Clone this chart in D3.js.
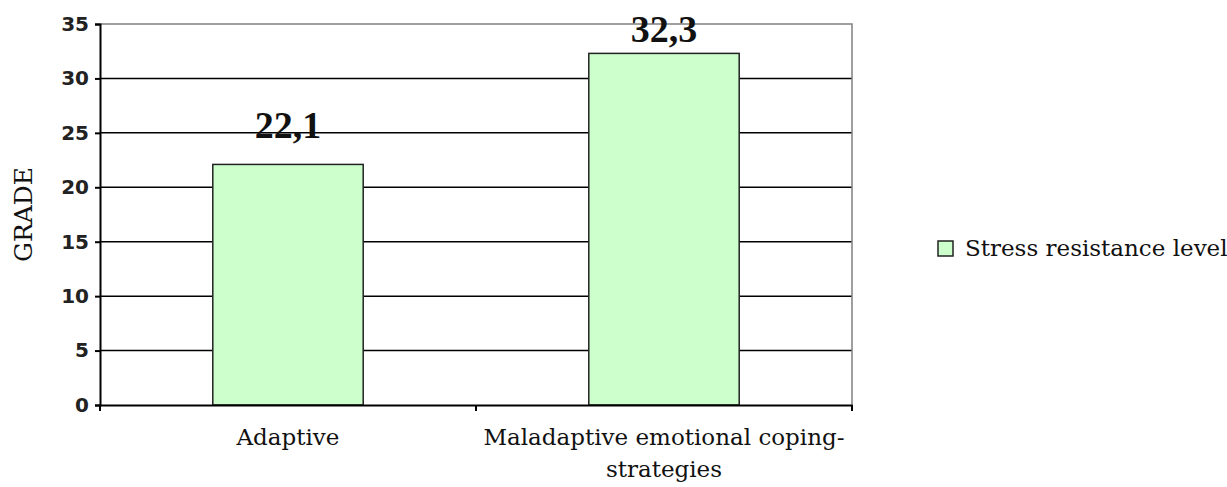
<!DOCTYPE html>
<html>
<head>
<meta charset="utf-8">
<script src="https://cdn.jsdelivr.net/npm/d3@7"></script>
<style>
  body { margin: 0; background: #fff; }
  svg { display: block; }
</style>
</head>
<body>
<svg></svg>
<script>
const categories = ['Adaptive', 'Maladaptive emotional coping-strategies'];
const categoryLines = [['Adaptive'], ['Maladaptive emotional coping-', 'strategies']];
const values = [22.1, 32.3];
const valueLabels = ['22,1', '32,3'];
const yTicks = [0, 5, 10, 15, 20, 25, 30, 35];
const seriesName = 'Stress resistance level';
const yTitle = 'GRADE';

const width = 1227;
const height = 487;
const plotLeft = 100;
const plotRight = 852;
const plotTop = 24;
const plotBottom = 405;

const svg = d3.select('svg').attr('width', width).attr('height', height);

const xScale = d3.scaleBand().domain(categories).range([plotLeft, plotRight]).padding(0);
const yScale = d3.scaleLinear().domain([0, 35]).range([plotBottom, plotTop]);

const barWidth = xScale.bandwidth() * 0.4;

// gridlines
svg
  .append('g')
  .selectAll('line')
  .data(yTicks.filter((t) => t > 0 && t < 35))
  .enter()
  .append('line')
  .attr('x1', plotLeft)
  .attr('x2', plotRight)
  .attr('y1', (d) => yScale(d))
  .attr('y2', (d) => yScale(d))
  .attr('stroke', '#000')
  .attr('stroke-width', 1.5);

// plot border (top and right, gray)
svg
  .append('path')
  .attr('d', `M${plotLeft},${yScale(35)}H${plotRight}V${yScale(0)}`)
  .attr('fill', 'none')
  .attr('stroke', '#808080')
  .attr('stroke-width', 1.5);

// bars
svg
  .selectAll('rect.bar')
  .data(values)
  .enter()
  .append('rect')
  .attr('class', 'bar')
  .attr('x', (d, i) => xScale(categories[i]) + (xScale.bandwidth() - barWidth) / 2)
  .attr('y', (d) => yScale(d))
  .attr('width', barWidth)
  .attr('height', (d) => yScale(0) - yScale(d))
  .attr('fill', '#ccffcc')
  .attr('stroke', '#222')
  .attr('stroke-width', 1.5);

// value labels (the tall one gets pushed down so it stays in the picture)
svg
  .selectAll('text.val')
  .data(values)
  .enter()
  .append('text')
  .attr('class', 'val')
  .attr('x', (d, i) => xScale(categories[i]) + xScale.bandwidth() / 2)
  .attr('y', (d) => Math.max(yScale(d) - 26, 42))
  .attr('text-anchor', 'middle')
  .attr('font-family', 'Liberation Serif, serif')
  .attr('font-weight', 'bold')
  .attr('font-size', 38)
  .attr('fill', '#111')
  .text((d, i) => valueLabels[i]);

// y axis
const yAxis = d3.axisLeft(yScale).tickValues(yTicks).tickSize(5).tickPadding(6);
const gy = svg
  .append('g')
  .attr('transform', 'translate(' + plotLeft + ', 0)')
  .call(yAxis);
gy.select('.domain').attr('stroke', '#000').attr('stroke-width', 2);
gy.selectAll('.tick line').attr('stroke', '#000').attr('stroke-width', 2);
gy.selectAll('.tick text')
  .attr('font-family', 'DejaVu Sans, sans-serif')
  .attr('font-weight', 'bold')
  .attr('font-size', 20)
  .attr('fill', '#222');

// x axis
const xAxis = d3.axisBottom(xScale).tickSize(0).tickFormat('');
const gx = svg
  .append('g')
  .attr('transform', 'translate(0, ' + plotBottom + ')')
  .call(xAxis);
gx.select('.domain').attr('stroke', '#000').attr('stroke-width', 2);
gx.selectAll('.tick').remove();
// boundary ticks between categories
gx.selectAll('line.sep')
  .data([plotLeft, xScale(categories[1]), plotRight])
  .enter()
  .append('line')
  .attr('class', 'sep')
  .attr('x1', (d) => d)
  .attr('x2', (d) => d)
  .attr('y1', 0)
  .attr('y2', 6)
  .attr('stroke', '#000')
  .attr('stroke-width', 2);

// category labels
categoryLines.forEach((lines, i) => {
  const t = svg
    .append('text')
    .attr('x', xScale(categories[i]) + xScale.bandwidth() / 2)
    .attr('y', 445)
    .attr('text-anchor', 'middle')
    .attr('font-family', 'DejaVu Serif, serif')
    .attr('font-size', 23)
    .attr('fill', '#111');
  lines.forEach((line, j) => {
    t.append('tspan')
      .attr('x', xScale(categories[i]) + xScale.bandwidth() / 2)
      .attr('dy', j === 0 ? 0 : 32)
      .text(line);
  });
});

// y title
svg
  .append('text')
  .attr('transform', 'translate(32, ' + yScale(17.5) + ') rotate(-90)')
  .attr('text-anchor', 'middle')
  .attr('font-family', 'DejaVu Serif, serif')
  .attr('font-size', 25)
  .attr('fill', '#111')
  .text(yTitle);

// legend
const legend = svg.append('g').attr('transform', 'translate(938, 241)');
legend
  .append('rect')
  .attr('width', 15)
  .attr('height', 15)
  .attr('fill', '#ccffcc')
  .attr('stroke', '#222')
  .attr('stroke-width', 1.5);
legend
  .append('text')
  .attr('x', 27)
  .attr('y', 15)
  .attr('font-family', 'DejaVu Serif, serif')
  .attr('font-size', 23)
  .attr('fill', '#111')
  .text(seriesName);
</script>
</body>
</html>
